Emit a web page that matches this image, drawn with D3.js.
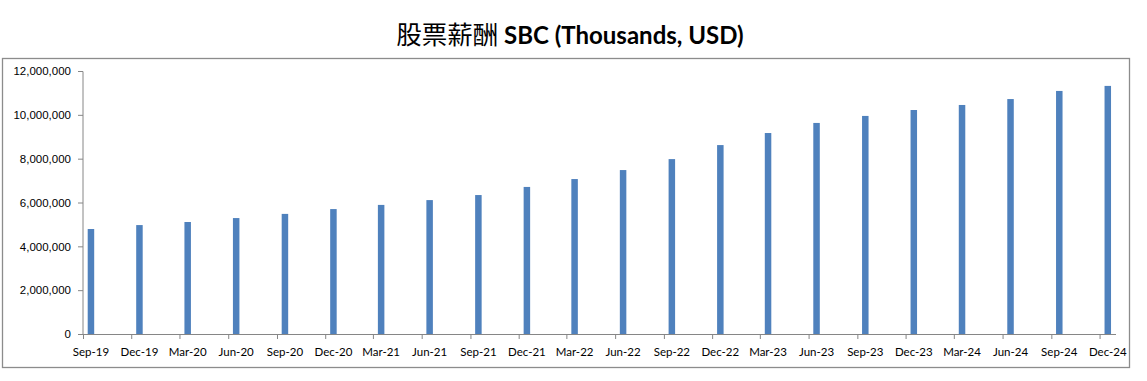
<!DOCTYPE html>
<html>
<head>
<meta charset="utf-8">
<script src="https://cdn.jsdelivr.net/npm/d3@7"></script>
<style>
body{margin:0;background:#fff;}
svg{display:block;font-family:Lato,"Noto Sans",sans-serif;}
</style>
</head>
<body>
<div id="wrapper"></div>
<script>
// Data
const quarters = ['Sep-19','Dec-19','Mar-20','Jun-20','Sep-20','Dec-20','Mar-21','Jun-21','Sep-21','Dec-21','Mar-22','Jun-22','Sep-22','Dec-22','Mar-23','Jun-23','Sep-23','Dec-23','Mar-24','Jun-24','Sep-24','Dec-24'];
const sbcValues = [4790000,4970000,5110000,5290000,5480000,5700000,5890000,6110000,6340000,6710000,7070000,7480000,7980000,8620000,9170000,9630000,9950000,10220000,10450000,10720000,11090000,11320000];
const yTicks = [0,2000000,4000000,6000000,8000000,10000000,12000000];

const parseQ = d3.utcParse('%b-%y');
const dataset = quarters.map((q,i)=>({label:q, date:parseQ(q), value:sbcValues[i]}));

// Dimensions
const dimensions = {width:1147,height:381,margins:{top:71,bottom:47,left:83,right:31}};
dimensions.boundedWidth = dimensions.width-dimensions.margins.left-dimensions.margins.right;
dimensions.boundedHeight = dimensions.height-dimensions.margins.top-dimensions.margins.bottom;

const svg = d3.select('#wrapper').append('svg')
    .attr('width',dimensions.width).attr('height',dimensions.height);

// chart area border
svg.append('rect')
    .attr('x',2.5).attr('y',58.5).attr('width',1127).attr('height',309)
    .attr('fill','none').attr('stroke','#8c8c8c').attr('stroke-width',1.3);

// Title
const title = svg.append('text')
    .attr('x',570).attr('y',44).attr('text-anchor','middle').attr('fill','#000');
title.append('tspan').text('股票薪酬 ')
    .attr('font-family','"Noto Sans CJK TC"').attr('font-size','25.5px').attr('font-weight',400);
title.append('tspan').text('SBC (Thousands, USD)')
    .attr('font-family','Lato,"Noto Sans",sans-serif').attr('font-size','24px').attr('font-weight',700);

const bounds = svg.append('g')
    .attr('transform',`translate(${dimensions.margins.left},${dimensions.margins.top})`);

// Scales: monthly slots, axis runs Sep-19 to end of Dec-24
const xScale = d3.scaleUtc()
    .domain([dataset[0].date, d3.utcMonth.offset(dataset[dataset.length-1].date,1)])
    .range([0,dimensions.boundedWidth]);
const midMonth = d=>(xScale(d)+xScale(d3.utcMonth.offset(d,1)))/2;

const yScale = d3.scaleLinear()
    .domain([0,12000000]).range([dimensions.boundedHeight,0]);

// Bars
const barWidth = 6.5;
bounds.selectAll('rect.bar').data(dataset).enter().append('rect')
    .attr('class','bar')
    .attr('x',d=>midMonth(d.date)-barWidth/2)
    .attr('y',d=>yScale(d.value))
    .attr('width',barWidth)
    .attr('height',d=>dimensions.boundedHeight-yScale(d.value))
    .attr('fill','#4f81bd');

// Y axis
const fmt = d3.format(',');
const yAxis = bounds.append('g')
    .call(d3.axisLeft(yScale).tickValues(yTicks).tickSize(5).tickPadding(7).tickFormat(fmt));
yAxis.selectAll('text').attr('font-size','11.5px').attr('fill','#000');
yAxis.selectAll('line,path').attr('stroke','#868686');
yAxis.select('path').attr('d',`M0,${dimensions.boundedHeight}V0.5H-5`);

// X axis
const xAxis = bounds.append('g')
    .attr('transform',`translate(0,${dimensions.boundedHeight})`)
    .call(d3.axisBottom(xScale).tickValues(dataset.map(d=>d.date)).tickSize(5).tickFormat(''));
xAxis.selectAll('line,path').attr('stroke','#868686');
xAxis.select('path').attr('d',`M0,0.5H${dimensions.boundedWidth}`);

bounds.append('g').selectAll('text').data(dataset).enter().append('text')
    .attr('x',d=>midMonth(d.date))
    .attr('y',dimensions.boundedHeight+22)
    .attr('text-anchor','middle')
    .attr('font-size','11.5px').attr('fill','#000')
    .text(d=>d.label);
</script>
</body>
</html>
